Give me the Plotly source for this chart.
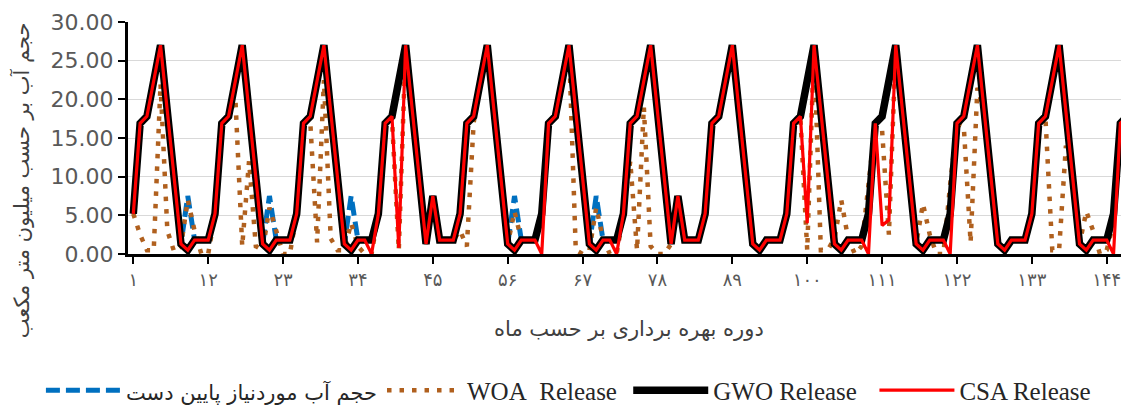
import plotly.graph_objects as go

months = list(range(1, 149))
tick_vals = [1, 12, 23, 34, 45, 56, 67, 78, 89, 100, 111, 122, 133, 144]
tick_text = ["۱", "۱۲", "۲۳", "۳۴", "۴۵", "۵۶", "۶۷", "۷۸", "۸۹", "۱۰۰", "۱۱۱", "۱۲۲", "۱۳۳", "۱۴۴"]
y_ticks = [0, 5, 10, 15, 20, 25, 30]

names = ["<span style='font-size:21px;font-family:DejaVu Sans'>حجم آب موردنیاز پایین دست</span>",
         "WOA\u00a0 Release\u00a0", "GWO Release\u00a0\u00a0", "CSA Release"]

demand = [
    5.2, 16.9, 17.8, 22.3, 27.0, 18.4, 9.9, 1.3, 7.5, 1.8, 1.8, 1.8,
    5.2, 16.9, 17.8, 22.3, 27.0, 18.4, 9.9, 1.3, 7.5, 1.8, 1.8, 1.8,
    5.2, 16.9, 17.8, 22.3, 27.0, 18.4, 9.9, 1.3, 7.5, 1.8, 1.8, 1.8,
    5.2, 16.9, 17.8, 22.3, 27.0, 18.4, 9.9, 1.3, 7.5, 1.8, 1.8, 1.8,
    5.2, 16.9, 17.8, 22.3, 27.0, 18.4, 9.9, 1.3, 7.5, 1.8, 1.8, 1.8,
    5.2, 16.9, 17.8, 22.3, 27.0, 18.4, 9.9, 1.3, 7.5, 1.8, 1.8, 1.8,
    5.2, 16.9, 17.8, 22.3, 27.0, 18.4, 9.9, 1.3, 7.5, 1.8, 1.8, 1.8,
    5.2, 16.9, 17.8, 22.3, 27.0, 18.4, 9.9, 1.3, 0.5, 1.8, 1.8, 1.8,
    5.2, 16.9, 17.8, 22.3, 27.0, 18.4, 9.9, 1.3, 0.5, 1.8, 1.8, 1.8,
    5.2, 16.9, 17.8, 22.3, 27.0, 18.4, 9.9, 1.3, 0.5, 1.8, 1.8, 1.8,
    5.2, 16.9, 17.8, 22.3, 27.0, 18.4, 9.9, 1.3, 0.5, 1.8, 1.8, 1.8,
    5.2, 16.9, 17.8, 22.3, 27.0, 18.4, 9.9, 1.3, 0.5, 1.8, 1.8, 1.8,
    5.2, 16.9, 17.8, 22.3,
]

woa = [
    5.2, 2.5, 0.5, 0.5, 22.0, 3.0, 0.3, 1.0, 7.0, 3.0, 0.0, 0.0,
    5.2, 16.9, 17.8, 20.0, 1.0, 12.0, 1.0, 0.5, 6.0, 3.0, 0.0, 0.0,
    5.2, 16.9, 17.0, 1.5, 22.5, 2.0, 0.5, 0.5, 4.0, 1.0, 0.0, 0.0,
    5.2, 16.9, 17.5, 0.5, 27.0, 18.4, 9.9, 1.3, 7.5, 1.8, 1.8, 1.8,
    3.0, 1.0, 17.0, 22.3, 27.0, 18.4, 9.9, 1.3, 5.5, 1.8, 1.8, 1.8,
    5.2, 16.9, 17.8, 22.3, 27.0, 0.5, 0.0, 0.5, 6.0, 2.0, 0.0, 0.0,
    5.2, 12.0, 0.5, 19.0, 1.0, 0.0, 0.0, 1.3, 7.5, 1.8, 1.8, 1.8,
    5.2, 16.9, 17.8, 22.3, 27.0, 18.4, 9.9, 1.3, 0.5, 1.8, 1.8, 1.8,
    5.2, 16.9, 17.5, 0.5, 27.0, 0.5, 0.5, 2.0, 7.0, 2.0, 0.0, 1.0,
    9.0, 16.9, 16.0, 2.5, 27.0, 18.4, 9.9, 1.3, 6.5, 2.5, 0.0, 0.0,
    9.0, 16.9, 16.5, 1.5, 21.5, 18.4, 9.9, 1.3, 0.5, 1.8, 1.8, 1.8,
    5.2, 16.9, 17.5, 0.5, 0.5, 14.0, 9.9, 1.3, 5.5, 3.0, 0.0, 0.5,
    4.0, 16.9, 2.0, 1.0,
]

gwo = [
    5.2, 16.9, 17.8, 22.3, 27.0, 18.4, 9.9, 1.3, 0.5, 1.8, 1.8, 1.8,
    5.2, 16.9, 17.8, 22.3, 27.0, 18.4, 9.9, 1.3, 0.5, 1.8, 1.8, 1.8,
    5.2, 16.9, 17.8, 22.3, 27.0, 18.4, 9.9, 1.3, 0.5, 1.8, 1.8, 1.8,
    5.2, 16.9, 17.8, 22.3, 27.0, 18.4, 9.9, 1.3, 7.5, 1.8, 1.8, 1.8,
    5.2, 16.9, 17.8, 22.3, 27.0, 18.4, 9.9, 1.3, 0.5, 1.8, 1.8, 1.8,
    5.2, 16.9, 17.8, 22.3, 27.0, 18.4, 9.9, 1.3, 0.5, 1.8, 1.8, 1.8,
    5.2, 16.9, 17.8, 22.3, 27.0, 18.4, 9.9, 1.3, 7.5, 1.8, 1.8, 1.8,
    5.2, 16.9, 17.8, 22.3, 27.0, 18.4, 9.9, 1.3, 0.5, 1.8, 1.8, 1.8,
    5.2, 16.9, 17.8, 22.3, 27.0, 18.4, 9.9, 1.3, 0.5, 1.8, 1.8, 1.8,
    5.2, 16.9, 17.8, 22.3, 27.0, 18.4, 9.9, 1.3, 0.5, 1.8, 1.8, 1.8,
    5.2, 16.9, 17.8, 22.3, 27.0, 18.4, 9.9, 1.3, 0.5, 1.8, 1.8, 1.8,
    5.2, 16.9, 17.8, 22.3, 27.0, 18.4, 9.9, 1.3, 0.5, 1.8, 1.8, 1.8,
    5.2, 16.9, 17.8, 22.3,
]

csa = [
    5.2, 16.9, 17.8, 22.3, 27.0, 18.4, 9.9, 1.3, 0.5, 1.8, 1.8, 1.8,
    5.2, 16.9, 17.8, 22.3, 27.0, 18.4, 9.9, 1.3, 0.5, 1.8, 1.8, 1.8,
    5.2, 16.9, 17.8, 22.3, 27.0, 18.4, 9.9, 1.3, 0.5, 1.8, 1.8, 0.0,
    5.2, 16.9, 17.8, 0.8, 27.0, 18.4, 9.9, 1.3, 7.5, 1.8, 1.8, 1.8,
    5.2, 16.9, 17.8, 22.3, 27.0, 18.4, 9.9, 1.3, 0.5, 1.8, 1.8, 1.8,
    0.0, 16.9, 17.8, 22.3, 27.0, 18.4, 9.9, 1.3, 0.5, 1.8, 1.8, 0.0,
    5.2, 16.9, 17.8, 22.3, 27.0, 18.4, 9.9, 1.3, 7.5, 1.8, 1.8, 1.8,
    5.2, 16.9, 17.8, 22.3, 27.0, 18.4, 9.9, 1.3, 0.5, 1.8, 1.8, 1.8,
    5.2, 16.9, 17.8, 4.0, 27.0, 18.4, 9.9, 1.3, 0.5, 1.8, 1.8, 1.8,
    0.0, 16.9, 3.7, 4.4, 27.0, 18.4, 9.9, 1.3, 0.5, 1.8, 1.8, 1.8,
    0.0, 16.9, 17.8, 22.3, 27.0, 18.4, 9.9, 1.3, 0.5, 1.8, 1.8, 1.8,
    5.2, 16.9, 17.8, 22.3, 27.0, 18.4, 9.9, 1.3, 0.5, 1.8, 1.8, 1.8,
    0.0, 16.9, 17.8, 22.3,
]

fig = go.Figure()
fig.add_trace(go.Scatter(x=months, y=demand, mode="lines", name=names[0],
                         line=dict(color="#0070C0", width=5, dash="14px,6px")))
fig.add_trace(go.Scatter(x=months, y=woa, mode="lines", name=names[1],
                         line=dict(color="#B0601E", width=4.5, dash="4.5px,8px")))
fig.add_trace(go.Scatter(x=months, y=gwo, mode="lines", name=names[2],
                         line=dict(color="#000000", width=7.5)))
fig.add_trace(go.Scatter(x=months, y=csa, mode="lines", name=names[3],
                         line=dict(color="#FF0000", width=3.2)))

fig.update_layout(
    width=1121, height=409,
    margin=dict(l=120, r=0, t=14, b=163, autoexpand=False),
    paper_bgcolor="white", plot_bgcolor="white",
    showlegend=True,
    legend=dict(orientation="h", x=-0.087, xanchor="left", y=-0.588, yanchor="middle",
                font=dict(family="Liberation Serif", size=25, color="#262626"),
                itemwidth=75, traceorder="normal", bgcolor="rgba(0,0,0,0)"),
    xaxis=dict(range=[0.22, 147.27], tickmode="array", tickvals=tick_vals, ticktext=tick_text,
               automargin=False,
               showgrid=False, zeroline=False, showline=True, linecolor="black", linewidth=3,
               ticks="outside", ticklen=7, tickwidth=2, tickcolor="black",
               tickfont=dict(family="DejaVu Sans", size=18, color="#595959")),
    yaxis=dict(range=[0, 30], tickvals=y_ticks, tickformat=".2f", automargin=False,
               showgrid=True, gridcolor="#D9D9D9", gridwidth=1, zeroline=False,
               showline=True, linecolor="black", linewidth=3,
               ticks="outside", ticklen=7, tickwidth=2, tickcolor="black",
               tickfont=dict(family="DejaVu Sans", size=22, color="#595959")),
    annotations=[
        dict(text="حجم آب بر حسب میلیون متر مکعب", xref="paper", yref="paper",
             x=-0.105, y=0.317, xanchor="center", yanchor="middle", textangle=-90,
             showarrow=False, font=dict(family="DejaVu Sans", size=21, color="#404040")),
        dict(text="دوره بهره برداری بر حسب ماه", xref="paper", yref="paper",
             x=0.5, y=-0.323, xanchor="center", yanchor="middle",
             showarrow=False, font=dict(family="DejaVu Sans", size=21, color="#404040")),
    ],
)

fig.write_html("out.html")
